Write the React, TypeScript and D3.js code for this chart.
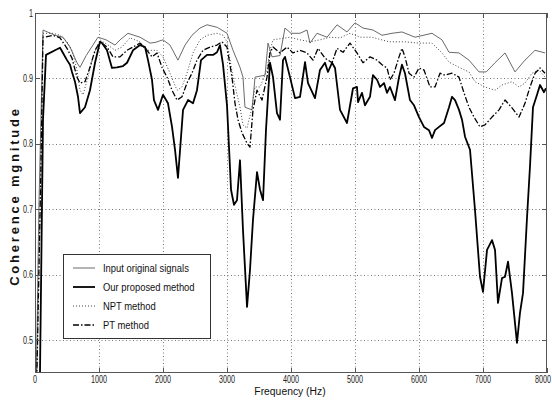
import React from 'react'
import * as d3 from 'd3'

// frequency (Hz) / coherence pairs
const inputSignal: [number, number][] = [
  [0, 0.3], [60, 0.7], [125, 0.974], [313, 0.966], [438, 0.963], [547, 0.948], [656, 0.924],
  [703, 0.917], [800, 0.935], [984, 0.963], [1016, 0.962], [1110, 0.959], [1250, 0.951],
  [1330, 0.959], [1453, 0.969], [1641, 0.963], [1797, 0.954], [1875, 0.955], [2000, 0.959],
  [2109, 0.951], [2234, 0.928], [2344, 0.951], [2453, 0.966], [2578, 0.977], [2688, 0.982],
  [2850, 0.978], [3000, 0.969], [3094, 0.943], [3203, 0.917], [3250, 0.902], [3281, 0.856],
  [3391, 0.852], [3438, 0.902], [3594, 0.905], [3641, 0.954], [3703, 0.933], [3828, 0.935],
  [3906, 0.977], [4000, 0.969], [4141, 0.969], [4250, 0.974], [4297, 0.954], [4406, 0.969],
  [4563, 0.963], [4719, 0.982], [4875, 0.971], [5000, 0.985], [5125, 0.977], [5281, 0.974],
  [5422, 0.966], [5578, 0.969], [5734, 0.971], [5938, 0.963], [6203, 0.969], [6359, 0.959],
  [6469, 0.94], [6625, 0.939], [6781, 0.928], [6938, 0.91], [7050, 0.91], [7188, 0.924],
  [7344, 0.939], [7500, 0.91], [7656, 0.928], [7813, 0.943], [7969, 0.939],
]

const proposed: [number, number][] = [
  [0, 0.2], [78, 0.45], [125, 0.837], [172, 0.936], [313, 0.943], [391, 0.947], [438, 0.939],
  [500, 0.928], [547, 0.921], [578, 0.91], [625, 0.895], [672, 0.872], [703, 0.847], [781, 0.856],
  [859, 0.882], [938, 0.924], [1016, 0.956], [1047, 0.954], [1125, 0.943], [1203, 0.916],
  [1281, 0.917], [1375, 0.919], [1438, 0.924], [1531, 0.943], [1641, 0.951], [1719, 0.948],
  [1766, 0.928], [1828, 0.898], [1859, 0.867], [1922, 0.852], [2000, 0.875], [2078, 0.862],
  [2141, 0.826], [2188, 0.791], [2234, 0.748], [2313, 0.852], [2391, 0.867], [2469, 0.862],
  [2531, 0.882], [2594, 0.928], [2688, 0.936], [2781, 0.936], [2844, 0.94], [2891, 0.951],
  [2938, 0.921], [3000, 0.859], [3063, 0.73], [3109, 0.707], [3156, 0.714], [3203, 0.775],
  [3250, 0.668], [3313, 0.551], [3359, 0.607], [3406, 0.684], [3469, 0.757], [3516, 0.73],
  [3563, 0.714], [3609, 0.821], [3672, 0.924], [3719, 0.902], [3781, 0.847], [3828, 0.837],
  [3875, 0.928], [3906, 0.933], [3984, 0.902], [4063, 0.87], [4141, 0.872], [4219, 0.925],
  [4266, 0.893], [4375, 0.87], [4453, 0.913], [4531, 0.924], [4578, 0.91], [4641, 0.924],
  [4688, 0.916], [4766, 0.852], [4875, 0.832], [4969, 0.885], [5031, 0.887], [5047, 0.864],
  [5109, 0.878], [5156, 0.859], [5234, 0.872], [5281, 0.905], [5344, 0.898], [5391, 0.887],
  [5453, 0.893], [5500, 0.878], [5547, 0.887], [5625, 0.867], [5688, 0.902], [5734, 0.921],
  [5781, 0.908], [5859, 0.867], [5922, 0.859], [6000, 0.841], [6078, 0.826], [6156, 0.821],
  [6203, 0.809], [6250, 0.821], [6313, 0.826], [6391, 0.832], [6469, 0.856], [6516, 0.872],
  [6563, 0.867], [6625, 0.852], [6672, 0.837], [6719, 0.811], [6797, 0.791], [6875, 0.699],
  [6953, 0.597], [7000, 0.574], [7063, 0.638], [7141, 0.653], [7188, 0.638], [7234, 0.557],
  [7297, 0.595], [7344, 0.597], [7391, 0.62], [7453, 0.572], [7531, 0.496], [7578, 0.542],
  [7625, 0.572], [7688, 0.688], [7734, 0.765], [7781, 0.856], [7844, 0.875], [7891, 0.89],
  [7953, 0.879], [7984, 0.885],
]

const nptMethod: [number, number][] = [
  [0, 0.3], [90, 0.75], [125, 0.969], [281, 0.969], [391, 0.966], [500, 0.956], [578, 0.943],
  [656, 0.913], [703, 0.882], [750, 0.875], [828, 0.902], [906, 0.933], [1016, 0.959],
  [1141, 0.951], [1250, 0.943], [1359, 0.948], [1484, 0.962], [1641, 0.956], [1766, 0.943],
  [1906, 0.943], [2000, 0.933], [2109, 0.908], [2219, 0.882], [2297, 0.887], [2375, 0.908],
  [2469, 0.939], [2578, 0.959], [2688, 0.966], [2844, 0.969], [2938, 0.966], [3000, 0.956],
  [3094, 0.902], [3203, 0.856], [3250, 0.829], [3313, 0.824], [3391, 0.856], [3438, 0.887],
  [3516, 0.887], [3625, 0.913], [3672, 0.943], [3719, 0.959], [3984, 0.963], [4141, 0.959],
  [4297, 0.956], [4453, 0.959], [4609, 0.963], [4766, 0.962], [4922, 0.969], [5078, 0.963],
  [5266, 0.963], [5531, 0.956], [5781, 0.956], [6000, 0.954], [6203, 0.954], [6359, 0.939],
  [6469, 0.925], [6625, 0.917], [6781, 0.91], [6875, 0.895], [7031, 0.887], [7188, 0.882],
  [7297, 0.89], [7453, 0.895], [7563, 0.887], [7656, 0.893], [7766, 0.908], [7875, 0.913],
  [7969, 0.902],
]

const ptMethod: [number, number][] = [
  [0, 0.3], [90, 0.75], [125, 0.963], [156, 0.963], [281, 0.966], [391, 0.962], [500, 0.946],
  [578, 0.931], [656, 0.902], [703, 0.893], [781, 0.895], [859, 0.917], [938, 0.943],
  [1016, 0.956], [1125, 0.948], [1219, 0.933], [1328, 0.933], [1438, 0.943], [1531, 0.948],
  [1641, 0.954], [1750, 0.943], [1828, 0.933], [1906, 0.939], [1984, 0.917], [2063, 0.902],
  [2141, 0.882], [2219, 0.867], [2297, 0.872], [2375, 0.893], [2453, 0.908], [2531, 0.928],
  [2625, 0.943], [2734, 0.948], [2844, 0.951], [2922, 0.956], [3000, 0.948], [3078, 0.902],
  [3125, 0.862], [3172, 0.837], [3234, 0.817], [3313, 0.801], [3359, 0.795], [3406, 0.852],
  [3469, 0.882], [3547, 0.867], [3625, 0.902], [3672, 0.939], [3719, 0.948], [3828, 0.939],
  [3938, 0.948], [4031, 0.939], [4141, 0.943], [4250, 0.939], [4344, 0.928], [4422, 0.946],
  [4531, 0.931], [4641, 0.924], [4719, 0.946], [4813, 0.94], [4922, 0.954], [5031, 0.939],
  [5125, 0.924], [5234, 0.933], [5344, 0.928], [5422, 0.921], [5500, 0.916], [5547, 0.898],
  [5609, 0.908], [5688, 0.933], [5734, 0.946], [5781, 0.933], [5844, 0.908], [5922, 0.902],
  [6000, 0.916], [6078, 0.913], [6172, 0.887], [6250, 0.887], [6328, 0.908], [6406, 0.905],
  [6516, 0.908], [6625, 0.902], [6703, 0.878], [6781, 0.856], [6859, 0.841], [6953, 0.826],
  [7031, 0.829], [7141, 0.841], [7250, 0.852], [7344, 0.867], [7453, 0.855], [7563, 0.841],
  [7656, 0.862], [7734, 0.887], [7813, 0.908], [7891, 0.916], [7969, 0.908],
]

const freqTicks = [0, 1000, 2000, 3000, 4000, 5000, 6000, 7000, 8000]
const valueTicks = [0.5, 0.6, 0.7, 0.8, 0.9, 1]
const legendLabels = ['Input original signals', 'Our proposed method', 'NPT method', 'PT method']

const W = 552
const H = 408
const M = { left: 35, right: 5, top: 13, bottom: 35 }
const sans = "'Liberation Sans', Arial, sans-serif"

// line styles in legend order
const styles = [
  { stroke: '#6a6a6a', width: 1, dash: null as string | null },
  { stroke: '#000', width: 1.8, dash: null },
  { stroke: '#444', width: 1, dash: '1,2' },
  { stroke: '#000', width: 1.3, dash: '6,2,1.5,2' },
]

export default function App() {
  const x = d3.scaleLinear().domain([0, 8000]).range([M.left, W - M.right])
  const y = d3.scaleLinear().domain([0.45, 1]).range([H - M.bottom, M.top])
  const line = d3.line<[number, number]>().x(d => x(d[0])).y(d => y(d[1]))

  const series = [inputSignal, proposed, nptMethod, ptMethod]
  // draw order: gray, dotted, dash-dot, thick on top
  const order = [0, 2, 3, 1]

  const x0 = x.range()[0], x1 = x.range()[1]
  const y0 = y.range()[0], y1 = y.range()[1]

  const lg = { x: 63, y: 254, w: 147, h: 84 }

  return (
    <svg width={W} height={H} style={{ position: 'absolute', left: 0, top: 0, background: '#fff' }}>
      <defs>
        <clipPath id="plot">
          <rect x={x0} y={y1} width={x1 - x0} height={y0 - y1} />
        </clipPath>
      </defs>
      <rect width={W} height={H} fill="#fff" />

      {/* grid */}
      <g stroke="#777" strokeWidth={1} strokeDasharray="1,2.5">
        {freqTicks.slice(1, -1).map(t => (
          <line key={'gx' + t} x1={Math.round(x(t)) + 0.5} x2={Math.round(x(t)) + 0.5} y1={y1} y2={y0} />
        ))}
        {valueTicks.filter(t => t < 1).map(t => (
          <line key={'gy' + t} x1={x0} x2={x1} y1={Math.round(y(t)) + 0.5} y2={Math.round(y(t)) + 0.5} />
        ))}
      </g>

      {/* curves */}
      <g clipPath="url(#plot)" fill="none" strokeLinejoin="round">
        {order.map(i => (
          <path key={i} d={line(series[i]) || ''} stroke={styles[i].stroke}
            strokeWidth={styles[i].width} strokeDasharray={styles[i].dash || undefined} />
        ))}
      </g>

      {/* box and inward ticks */}
      <g stroke="#555" strokeWidth={1} fill="none">
        <rect x={x0 + 0.5} y={y1 + 0.5} width={x1 - x0 - 1} height={y0 - y1 - 1} />
        {freqTicks.map(t => {
          const px = Math.round(x(t)) + 0.5
          return (
            <g key={'tx' + t}>
              <line x1={px} x2={px} y1={y0} y2={y0 - 5} />
              <line x1={px} x2={px} y1={y1} y2={y1 + 5} />
            </g>
          )
        })}
        {valueTicks.map(t => {
          const py = Math.round(y(t)) + 0.5
          return (
            <g key={'ty' + t}>
              <line x1={x0} x2={x0 + 5} y1={py} y2={py} />
              <line x1={x1} x2={x1 - 5} y1={py} y2={py} />
            </g>
          )
        })}
      </g>

      {/* tick labels, condensed; the last one kept inside the page */}
      <g fontFamily={sans} fontSize={10} fill="#222">
        {freqTicks.map((t, i) => {
          const last = i === freqTicks.length - 1
          const tx = last ? W - 1 : x(t)
          return (
            <text key={'lx' + t} transform={`translate(${tx},${y0 + 10}) scale(0.72,1)`}
              textAnchor={last ? 'end' : 'middle'}>{t}</text>
          )
        })}
        {valueTicks.map(t => (
          <text key={'ly' + t} transform={`translate(${x0 - 2},${y(t) + 3.5}) scale(0.72,1)`} textAnchor="end">
            {t === 1 ? '1' : t.toFixed(1)}
          </text>
        ))}
      </g>

      {/* axis titles */}
      <text transform={`translate(290,395) scale(0.9,1)`} textAnchor="middle" fontFamily={sans} fontSize={11.5} fill="#111">
        Frequency (Hz)
      </text>
      <text transform="translate(19,196) rotate(-90)" textAnchor="middle" fontFamily={sans}
        fontWeight="bold" fontSize={13} letterSpacing={2.8} fill="#111">
        Coherence mgnitude
      </text>

      {/* legend */}
      <g>
        <rect x={lg.x + 0.5} y={lg.y + 0.5} width={lg.w} height={lg.h} fill="#fff" stroke="#333" strokeWidth={1} />
        {legendLabels.map((name, i) => {
          const ry = lg.y + 14 + i * 19
          return (
            <g key={name}>
              <line x1={73} x2={95} y1={ry} y2={ry} stroke={styles[i].stroke} strokeWidth={styles[i].width}
                strokeDasharray={styles[i].dash || undefined} />
              <text transform={`translate(103,${ry + 4}) scale(0.82,1)`} fontFamily={sans} fontSize={11.5} fill="#111">{name}</text>
            </g>
          )
        })}
      </g>
    </svg>
  )
}
